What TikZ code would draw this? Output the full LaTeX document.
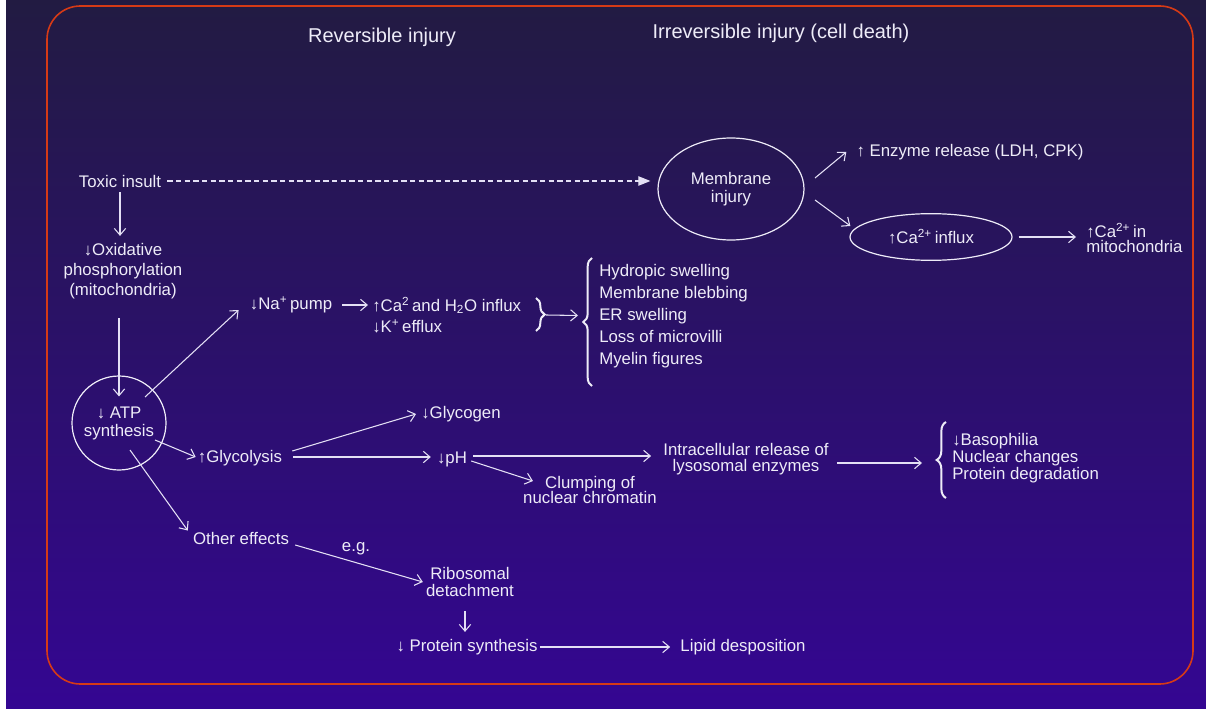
\documentclass[tikz,border=0pt]{standalone}
\usepackage{fontspec}
\setmainfont{Liberation Sans}
\usetikzlibrary{arrows.meta,shapes.geometric,decorations.pathreplacing,calc}
\definecolor{txt}{RGB}{238,236,248}
\definecolor{lin}{RGB}{228,224,245}
\definecolor{framec}{RGB}{214,58,22}
\definecolor{bgtop}{RGB}{34,27,66}
\definecolor{bgmid}{RGB}{42,18,112}
\definecolor{bgbot}{RGB}{52,6,146}
\newcommand{\upa}{↑}
\newcommand{\dna}{↓}
\begin{document}
\begin{tikzpicture}[x=0.75pt,y=-0.75pt,
  lbl/.style={text=txt, font=\fontsize{12.6}{15}\selectfont, inner sep=1.5pt, align=center},
  ttl/.style={text=txt, font=\fontsize{15}{18}\selectfont, inner sep=1.5pt},
  arr/.style={draw=lin, line width=0.8pt, -{Straight Barb[length=5pt,width=8.5pt,line width=0.8pt]}},
  brc/.style={draw=txt, line width=1.5pt, decorate},
  shp/.style={draw=txt, line width=0.9pt}]
\useasboundingbox (0,0) rectangle (1206,709);
\fill[white] (0,0) rectangle (1206,709);
\shade[top color=bgtop, middle color=bgmid, bottom color=bgbot] (6,0) rectangle (1206,709);
\draw[framec, line width=1.2pt, rounded corners=25pt] (47,6) rectangle (1193,684);

% titles
\node[ttl] (rev) at (382,37) {Reversible injury};
\node[ttl] (irr) at (781,33) {Irreversible injury (cell death)};

% left column
\node[lbl] (toxic) at (120,181) {Toxic insult};
\node[lbl] (oxid) at (123,271) {\dna Oxidative\\phosphorylation\\(mitochondria)};
\node[lbl, circle, shp, minimum size=70.5pt, font=\fontsize{12.6}{13.5}\selectfont] (atp) at (119,423) {\dna\ ATP\\synthesis};

% Na pump branch
\node[lbl] (na) at (291,305) {\dna Na\textsuperscript{+}\,pump};
\node[lbl, align=left, anchor=west, font=\fontsize{12.6}{15.75}\selectfont] (ca) at (370,315) {\upa Ca\textsuperscript{2}\,and H\textsubscript{2}O influx\\\dna K\textsuperscript{+}\,efflux};
\draw[brc, decoration={brace, amplitude=6.5pt}] (536,298) -- (536,331);
\coordinate (bs) at (546,315);
\draw[brc, decoration={brace, amplitude=6.5pt}] (592,386) -- (592,258);
\node[lbl, align=left, anchor=west, font=\fontsize{12.6}{16.5}\selectfont] (list) at (597,316.5) {Hydropic swelling\\Membrane blebbing\\ER swelling\\Loss of microvilli\\Myelin figures};

% glycolysis branch
\node[lbl] (glyc) at (240,458) {\upa Glycolysis};
\node[lbl] (glycogen) at (461,414) {\dna Glycogen};
\node[lbl] (ph) at (452,459) {\dna pH};
\node[lbl, font=\fontsize{12.6}{11.8}\selectfont] (clump) at (590,490) {Clumping of\\nuclear chromatin};
\node[lbl, font=\fontsize{12.6}{12}\selectfont] (intra) at (746,459) {Intracellular release of\\lysosomal enzymes};
\draw[brc, decoration={brace, amplitude=7pt}] (946,498) -- (946,422);
\node[lbl, align=left, anchor=west, font=\fontsize{12.6}{12.75}\selectfont] (baso) at (950,458) {\dna Basophilia\\Nuclear changes\\Protein degradation};

% other effects branch
\node[lbl] (other) at (241,538) {Other effects};
\node[lbl] (eg) at (356,549) {e.g.};
\node[lbl, font=\fontsize{12.6}{12.75}\selectfont] (ribo) at (470,582) {Ribosomal\\detachment};
\node[lbl] (prot) at (467,647) {\dna\ Protein synthesis};
\node[lbl] (lipid) at (743,647) {Lipid desposition};

% irreversible
\node[lbl, ellipse, shp, minimum width=109.5pt, minimum height=76.5pt, font=\fontsize{12.6}{13.5}\selectfont] (mem) at (731,189) {Membrane\\injury};
\node[lbl] (enz) at (970,152) {\upa\ Enzyme release (LDH, CPK)};
\node[lbl, ellipse, shp, minimum width=121.5pt, minimum height=35pt] (cain) at (931,237) {\upa Ca\textsuperscript{2+}\,influx};
\node[lbl, align=left, anchor=west, font=\fontsize{12.6}{11.5}\selectfont] (camito) at (1084,238) {\upa Ca\textsuperscript{2+}\,in\\mitochondria};

% connectors
\draw[arr] ($(toxic.south)+(0,3)$) -- ($(toxic.south |- oxid.north)+(0,-5)$);
\draw[arr] ($(atp.north |- oxid.south)+(0,17)$) -- ($(atp.north)+(0,21)$);
\draw[arr] ($(atp.center)+(26,-26)$) -- ($(na.west)+(-9,5)$);
\draw[arr] ($(na.east)+(8,0)$) -- ($(na.east -| ca.west)+(-2,0)$);
\draw[arr] (bs) -- ($(list.west)+(-19,-1)$);
\draw[arr] ($(atp.center)+(36,17)$) -- ($(glyc.west)+(0,-1)$);
\draw[arr] ($(glyc.east)+(8,-7)$) -- ($(glycogen.west)+(-3,0)$);
\draw[arr] ($(glyc.east)+(9,-1)$) -- ($(ph.west)+(-4,-2)$);
\draw[arr] ($(ph.east)+(4,-3)$) -- ($(intra.west |- ph.east)+(-10,-3)$);
\draw[arr] ($(ph.east)+(2,2)$) -- ($(clump.west)+(12,-9)$);
\draw[arr] ($(intra.east)+(6,4)$) -- ($(baso.west)+(-28,5)$);
\draw[arr] ($(atp.center)+(11,27)$) -- ($(other.north west)+(-3,1)$);
\draw[arr] ($(other.east)+(4,7)$) -- ($(ribo.west)+(-1,0)$);
\draw[arr] ($(prot.north |- ribo.south)+(-2,12)$) -- ($(prot.north)+(-2,-5)$);
\draw[arr] (prot.east) -- ($(lipid.west)+(-8,0)$);
\draw[draw=lin, line width=0.8pt, dash pattern=on 4pt off 2.5pt, -{Triangle[length=9pt,width=7pt]}] ($(toxic.east)+(4,0)$) -- ($(mem.west)+(-7,-8)$);
\draw[arr] ($(mem.center)+(84,-11)$) -- ($(enz.west)+(-8,0)$);
\draw[arr] ($(mem.center)+(84,11)$) -- ($(cain.west)+(1,-11)$);
\draw[arr] ($(cain.east)+(6,0)$) -- ($(camito.west)+(-8,-1)$);
\end{tikzpicture}
\end{document}
